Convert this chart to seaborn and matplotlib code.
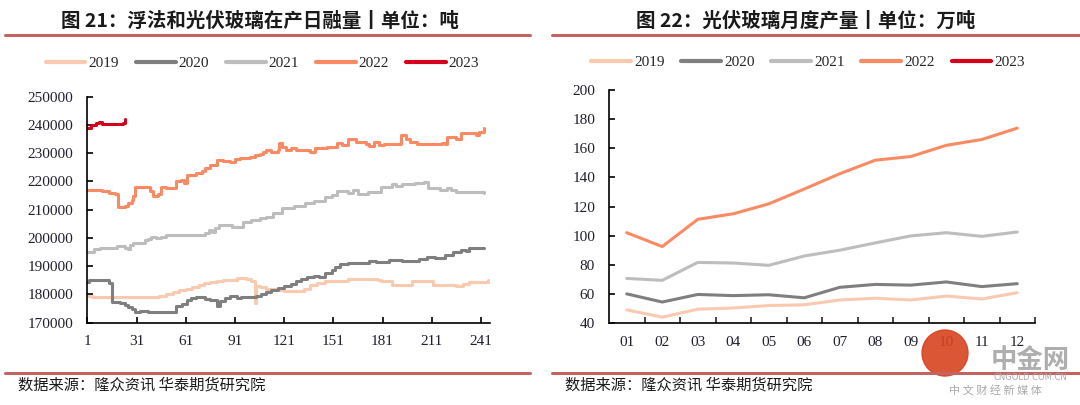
import numpy as np
import pandas as pd
import matplotlib.pyplot as plt
import seaborn as sns
from matplotlib.lines import Line2D
from matplotlib.patches import Ellipse

# 左图：日融量（吨），按变动点记录
years = ["2019", "2020", "2021", "2022", "2023"]
colors = ["#F9C9B0", "#7F7F7F", "#BDBDBD", "#F98A63", "#D7001A"]

day_2019 = [1, 4, 42, 45, 49, 53, 57, 61, 65, 69, 72, 76, 80, 84, 88, 92, 95, 98, 101, 103, 104, 106,
            110, 116, 121, 131, 133, 137, 141, 146, 160, 175, 178, 180, 187, 199, 212, 226, 230, 234, 242, 245]
val_2019 = [179600, 179000, 179000, 179600, 180200, 180800, 181600, 182000, 182600, 183200, 184000, 184400,
            184800, 185000, 185000, 185800, 186000, 185300, 184600, 177000, 183000, 182500, 181800, 181600,
            181300, 181300, 182100, 183200, 184200, 184600, 185400, 185400, 185000, 184600, 183400, 184600,
            183300, 183000, 183700, 184400, 184500, 185200]

day_2020 = [1, 2, 14, 16, 21, 24, 26, 28, 30, 33, 38, 55, 59, 62, 64, 67, 73, 76, 80, 82, 85, 88, 92, 95,
            104, 107, 110, 113, 117, 121, 125, 128, 131, 135, 139, 142, 146, 150, 152, 155, 160, 173, 177,
            185, 193, 200, 203, 208, 213, 219, 224, 229, 232, 234, 243]
val_2020 = [184500, 185100, 184200, 177200, 176800, 176200, 175500, 174800, 173700, 174200, 173900, 175900,
            176500, 178000, 178800, 179100, 178500, 177900, 176000, 177600, 178600, 179600, 178800, 179000,
            179600, 180200, 181000, 181600, 182400, 183100, 183700, 184600, 185300, 186200, 186600, 186300,
            187600, 188600, 189600, 190700, 191200, 191900, 191600, 192100, 191700, 191700, 192700, 193300,
            193000, 194000, 195100, 195800, 195400, 196400, 196500]

day_2021 = [1, 5, 9, 19, 24, 26, 27, 29, 34, 36, 38, 40, 43, 46, 49, 73, 75, 77, 79, 81, 89, 96, 101, 106,
            110, 114, 120, 127, 134, 139, 146, 150, 153, 160, 163, 166, 172, 180, 187, 189, 193, 201, 206,
            209, 216, 220, 223, 226, 240, 243]
val_2021 = [195200, 196000, 196300, 197000, 196600, 196200, 197500, 198100, 198300, 199200, 199800, 200400,
            200000, 200300, 201000, 201600, 202800, 202200, 203600, 204600, 204000, 205800, 206300, 206900,
            207300, 208700, 210500, 211300, 212200, 213200, 214400, 215200, 216600, 215800, 217000, 215400,
            216400, 218100, 219000, 218400, 219000, 219300, 219900, 217600, 217000, 217600, 217000, 216400,
            216300, 215800]

day_2022 = [1, 10, 14, 18, 20, 24, 26, 28, 29, 30, 37, 39, 41, 44, 46, 49, 55, 58, 60, 62, 67, 71, 73, 76,
            80, 84, 88, 91, 94, 100, 103, 106, 108, 110, 113, 117, 118, 120, 122, 125, 128, 137, 140, 147,
            153, 156, 160, 165, 171, 173, 176, 179, 182, 192, 195, 198, 202, 217, 219, 220, 226, 229, 234,
            238, 240, 243]
val_2022 = [216800, 216500, 216000, 215600, 210800, 211400, 212400, 213600, 215000, 218200, 218000, 216500,
            214800, 215400, 218000, 217600, 220000, 220600, 219400, 222300, 223000, 223600, 224600, 225800,
            227600, 227200, 226900, 227800, 228300, 228600, 229300, 229800, 230600, 231200, 230600, 231200,
            233600, 232300, 231200, 231700, 231100, 230300, 231700, 232300, 233500, 232900, 234900, 234100,
            233200, 232500, 234000, 232900, 233100, 236400, 234900, 234100, 233100, 233700, 233200, 235600,
            235100, 237300, 237000, 236400, 237600, 238800]

day_2023 = [1, 3, 6, 8, 10, 12, 21, 23, 24]
val_2023 = [239000, 240000, 240800, 241000, 240500, 240200, 240300, 240700, 242000]

# 右图：月度产量（万吨）
months = ["01", "02", "03", "04", "05", "06", "07", "08", "09", "10", "11", "12"]
m_2019 = [49, 44, 49.5, 50.3, 52, 52.5, 55.8, 57, 55.8, 58.5, 56.5, 60.8]
m_2020 = [60, 54.4, 59.6, 58.8, 59.4, 57.3, 64.5, 66.5, 66, 68.2, 65, 67]
m_2021 = [70.6, 69.3, 81.6, 81.2, 79.6, 86, 90, 95, 99.8, 102, 99.5, 102.5]
m_2022 = [102, 92.5, 111.2, 115, 121.8, 132, 142.5, 151.8, 154.3, 162, 166, 173.8]

sns.set_style("white")
plt.rcParams['font.family'] = ['Liberation Serif', 'Noto Sans CJK SC', 'DejaVu Sans']
cjk = ['Noto Sans CJK SC', 'DejaVu Sans']
W, H = 1080, 405

fig = plt.figure(figsize=(10.8, 4.05), dpi=100)
ax1 = fig.add_axes([87.3 / W, 1 - 322.7 / H, 402.7 / W, 226 / H])
ax2 = fig.add_axes([609 / W, 1 - 323 / H, 426 / W, 233 / H])

# 左图
daily = [(day_2019, val_2019), (day_2020, val_2020), (day_2021, val_2021),
         (day_2022, val_2022), (day_2023, val_2023)]
for (d, v), c in zip(daily, colors):
    sns.lineplot(x=d, y=v, ax=ax1, color=c, lw=2.2, drawstyle='steps-post',
                 errorbar=None, legend=False)
ax1.set_xlim(1, 246.5)
ax1.set_ylim(170000, 250000)
ax1.set_xticks(range(1, 242, 30))
ax1.set_yticks(range(170000, 250001, 10000))

# 右图
monthly = [m_2019, m_2020, m_2021, m_2022]
for v, c in zip(monthly, colors):
    sns.lineplot(x=months, y=v, ax=ax2, color=c, lw=2.2, errorbar=None, legend=False)
ax2.set_xlim(-0.5, 11.5)
ax2.set_ylim(40, 200)
ax2.set_yticks(range(40, 201, 20))
ax2.set_xticks(np.arange(0.5, 12, 1), minor=True)

for ax in (ax1, ax2):
    ax.set_xlabel("")
    ax.set_ylabel("")
    for s in ['top', 'right']:
        ax.spines[s].set_visible(False)
    for s in ['left', 'bottom']:
        ax.spines[s].set_color('black')
        ax.spines[s].set_linewidth(1.2)
    ax.tick_params(which='major', bottom=True, left=True, direction='in', length=4, width=1.2,
                   labelsize=11, labelcolor='#1f1f2e', color='black')
    ax.tick_params(axis='y', pad=10)
    ax.tick_params(axis='x', pad=9)
ax2.tick_params(axis='x', which='major', length=0)
ax2.tick_params(axis='x', which='minor', bottom=True, direction='in', length=4, width=1.2)

# 图例
handles = [Line2D([], [], color=c, lw=3) for c in colors]
for cx, cy in [(262.5, 63), (808, 62)]:
    fig.legend(handles, years, loc='center', bbox_to_anchor=(cx / W, 1 - cy / H), ncol=5,
               frameon=False, handlelength=2.6, handletextpad=0.2, columnspacing=1.1,
               fontsize=11, borderaxespad=0)

# 标题与分隔线
fig.text(259.5 / W, 1 - 21 / H, "图 21：浮法和光伏玻璃在产日融量丨单位：吨", ha='center', va='center',
         fontsize=14, fontweight='bold', family=cjk, color='#1a1a1a')
fig.text(806 / W, 1 - 21 / H, "图 22：光伏玻璃月度产量丨单位：万吨", ha='center', va='center',
         fontsize=14, fontweight='bold', family=cjk, color='#1a1a1a')
for x0, x1 in [(5, 530), (552, 1080)]:
    for yy in (34.5, 372.5):
        fig.add_artist(Line2D([x0 / W, x1 / W], [1 - yy / H] * 2, color='#C46462', lw=2.2))

fig.text(18 / W, 1 - 384.5 / H, "数据来源：隆众资讯 华泰期货研究院", ha='left', va='center',
         fontsize=11, family=cjk, color='#1a1a1a')
fig.text(565 / W, 1 - 384.5 / H, "数据来源：隆众资讯 华泰期货研究院", ha='left', va='center',
         fontsize=11, family=cjk, color='#1a1a1a')

# 水印
fig.add_artist(Ellipse((945 / W, 1 - 353 / H), 46 / W, 46 / H, color='#D8431F', alpha=0.9))
fig.text(1030 / W, 1 - 360 / H, "中金网", ha='center', va='center', fontsize=19, fontweight='bold',
         family=cjk, color='#9a9a9a', alpha=0.8)
fig.text(1030 / W, 1 - 377 / H, "CNGOLD.COM.CN", ha='center', va='center', fontsize=6,
         family=['DejaVu Sans'], color='#aaaaaa')
fig.text(995 / W, 1 - 390 / H, "中 文 财 经 新 媒 体", ha='center', va='center', fontsize=8,
         family=cjk, color='#aaaaaa')

fig.savefig("out.png", dpi=100)
